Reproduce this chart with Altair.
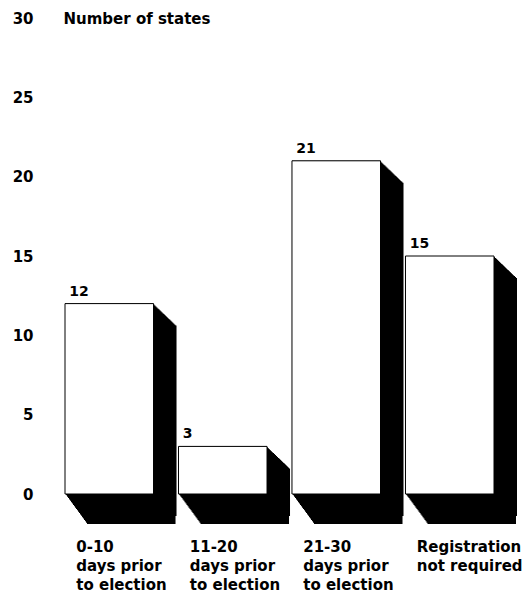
import altair as alt
import pandas as pd

categories = [
    "0-10\ndays prior\nto election",
    "11-20\ndays prior\nto election",
    "21-30\ndays prior\nto election",
    "Registration\nnot required",
]
states = [12, 3, 21, 15]
y_ticks = [0, 5, 10, 15, 20, 25, 30]

df = pd.DataFrame({"cat": categories, "n": states})

FONT = "DejaVu Sans"
DX, DY_TOP, DY_BOT = 23, 22, 30

xenc = alt.X(
    "cat:N",
    sort=categories,
    scale=alt.Scale(paddingInner=0.22, paddingOuter=0),
    axis=alt.Axis(
        title=None, labelAngle=0, ticks=False, domain=False, tickSize=0, grid=False,
        labelAlign="left", labelBaseline="top", labelOffset=-33, labelPadding=45,
        labelFont=FONT, labelFontWeight="bold", labelFontSize=15, labelColor="black",
        labelLineHeight=19, labelExpr="split(datum.label, '\\n')",
    ),
)
yscale = alt.Scale(domain=[0, 30], nice=False)
yenc = alt.Y(
    "n:Q",
    scale=yscale,
    axis=alt.Axis(
        values=y_ticks, grid=False, ticks=False, domain=False, tickSize=0,
        labelPadding=32, labelFont=FONT, labelFontWeight="bold", labelFontSize=15,
        labelColor="black",
        title="Number of states", titleAngle=0, titleX=-2, titleY=0,
        titleAlign="left", titleBaseline="middle", titleFont=FONT,
        titleFontWeight="bold", titleFontSize=15, titleColor="black",
    ),
)

base = alt.Chart(df)

layers = []
# floor part of the extrusion (steeper bottom edge)
for i in range(DX):
    off = i * DY_BOT / (DX - 1)
    layers.append(
        base.mark_bar(color="black", xOffset=i, yOffset=off, y2Offset=off)
        .encode(x=xenc, y=yenc, y2=alt.datum(0))
        .transform_calculate(n="1")
    )
# main extrusion
for i in range(DX + 1):
    off = i * DY_TOP / DX
    layers.append(
        base.mark_bar(color="black", xOffset=i, yOffset=off, y2Offset=off)
        .encode(x=xenc, y=yenc, y2=alt.datum(0))
    )

front = base.mark_bar(fill="white", stroke="black", strokeWidth=1).encode(
    x=xenc, y=yenc, y2=alt.datum(0)
)
labels = base.mark_text(
    align="left", baseline="bottom", dx=-40, dy=-5,
    font=FONT, fontWeight="bold", fontSize=14, color="black",
).encode(x=xenc, y=yenc, text="n:Q")

chart = (
    alt.layer(*layers, front, labels)
    .properties(
        width=429, height=476,
        autosize=alt.AutoSizeParams(type="none"),
        padding={"left": 57, "top": 10, "right": 29, "bottom": 98},
        view=alt.ViewBackground(stroke="transparent", strokeWidth=0),
    )
    .configure_view(stroke="transparent", strokeWidth=0)
    .configure_axis(grid=False, domain=False, ticks=False)
    .configure(background="white")
)

chart.save("out.html", embed_options={"renderer": "svg", "actions": False})
